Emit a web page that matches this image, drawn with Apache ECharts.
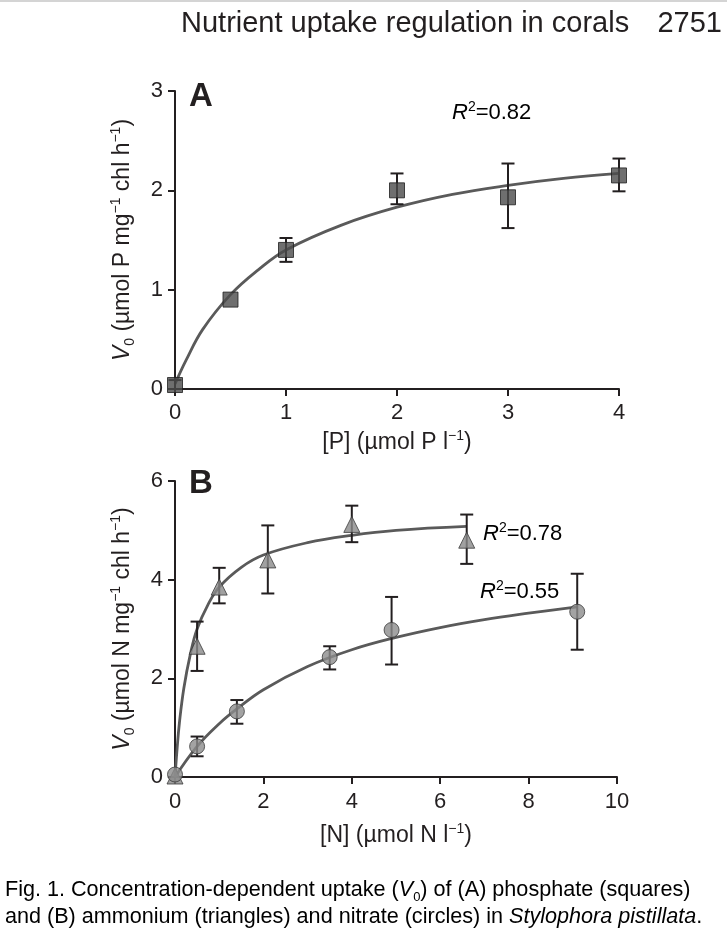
<!DOCTYPE html>
<html>
<head>
<meta charset="utf-8">
<script src="https://cdn.jsdelivr.net/npm/echarts@6/dist/echarts.min.js"></script>
<style>
html,body{margin:0;padding:0;background:#fff;}
#chart{width:727px;height:938px;}
</style>
</head>
<body>
<div id="chart"></div>
<script>
// ---- Panel A: phosphate ----
const pConc = [0, 0.5, 1, 2, 3, 4];
const pRate = [0.04, 0.9, 1.4, 2.0, 1.93, 2.15];
const pLow  = [0.0, 0.9, 1.28, 1.86, 1.62, 1.99];
const pHigh = [0.09, 0.9, 1.52, 2.17, 2.27, 2.32];
const pFitX = [0, 0.1, 0.25, 0.5, 0.75, 1, 1.5, 2, 2.5, 3, 3.5, 4];
const pFitY = [0.05, 0.29, 0.6, 0.95, 1.2, 1.4, 1.65, 1.83, 1.96, 2.05, 2.12, 2.17];

// ---- Panel B: ammonium (triangles) ----
const nhConc = [0, 0.5, 1, 2.1, 4, 6.6];
const nhRate = [0.02, 2.65, 3.85, 4.4, 5.12, 4.8];
const nhLow  = [0.02, 2.15, 3.52, 3.72, 4.76, 4.32];
const nhHigh = [0.02, 3.15, 4.24, 5.1, 5.5, 5.32];
const nhFitX = [0, 0.05, 0.1, 0.2, 0.35, 0.5, 0.75, 1, 1.5, 2, 3, 4, 5, 6.6];
const nhFitY = [0, 0.6, 1.1, 1.8, 2.5, 3.0, 3.5, 3.85, 4.25, 4.5, 4.75, 4.9, 5.0, 5.08];

// ---- Panel B: nitrate (circles) ----
const noConc = [0, 0.5, 1.4, 3.5, 4.9, 9.1];
const noRate = [0.05, 0.62, 1.33, 2.43, 2.98, 3.35];
const noLow  = [0.05, 0.42, 1.08, 2.18, 2.28, 2.58];
const noHigh = [0.05, 0.82, 1.56, 2.65, 3.65, 4.12];
const noFitX = [0, 0.5, 1, 1.4, 2, 3, 4, 5, 6, 7, 8, 9.1];
const noFitY = [0, 0.62, 1.08, 1.38, 1.77, 2.24, 2.58, 2.83, 3.03, 3.19, 3.32, 3.45];

// ---- Tick labels ----
const pXTicks = [0, 1, 2, 3, 4];
const pYTicks = [0, 1, 2, 3];
const nXTicks = [0, 2, 4, 6, 8, 10];
const nYTicks = [0, 2, 4, 6];

const FONT = '"Liberation Sans", Arial, Helvetica, sans-serif';
const INK = '#231f20';

function zip(a, b) { return a.map((v, i) => [v, b[i]]); }
function zip3(a, b, c) { return a.map((v, i) => [v, b[i], c[i]]); }

function errRender(params, api) {
  const x = api.value(0), lo = api.value(1), hi = api.value(2);
  if (lo === hi) return null;
  const a = api.coord([x, lo]);
  const b = api.coord([x, hi]);
  const w = 6.5;
  const st = { stroke: INK, lineWidth: 2 };
  return {
    type: 'group',
    children: [
      { type: 'line', shape: { x1: a[0], y1: a[1], x2: b[0], y2: b[1] }, style: st },
      { type: 'line', shape: { x1: a[0] - w, y1: a[1], x2: a[0] + w, y2: a[1] }, style: st },
      { type: 'line', shape: { x1: b[0] - w, y1: b[1], x2: b[0] + w, y2: b[1] }, style: st }
    ]
  };
}

function richSet(size) {
  const lh = Math.round(size * 1.2);
  const small = Math.round(size * 0.62);
  return {
    i: { fontStyle: 'italic', fontSize: size, fontFamily: FONT, color: INK, lineHeight: lh },
    sub: { fontSize: small, fontFamily: FONT, color: INK, verticalAlign: 'bottom', lineHeight: lh },
    sup: { fontSize: small, fontFamily: FONT, color: INK, verticalAlign: 'top', lineHeight: lh },
    n: { fontSize: size, fontFamily: FONT, color: INK, lineHeight: lh }
  };
}
const nameRich = richSet(23);
const rRich = richSet(22);

function xAxisCfg(gi, max, interval, name, gap, margin) {
  return {
    type: 'value', gridIndex: gi, min: 0, max: max, interval: interval,
    name: name, nameLocation: 'middle', nameGap: gap,
    nameTextStyle: { fontSize: 23, fontFamily: FONT, color: INK, rich: nameRich },
    axisLine: { lineStyle: { color: INK, width: 2 } },
    axisTick: { length: 7, lineStyle: { color: INK, width: 2 } },
    axisLabel: { fontSize: 22, fontFamily: FONT, color: INK, margin: margin },
    splitLine: { show: false }
  };
}
function yAxisCfg(gi, max, interval, name) {
  return {
    type: 'value', gridIndex: gi, min: 0, max: max, interval: interval,
    name: name, nameLocation: 'middle', nameGap: 38, nameRotate: 90,
    nameTextStyle: { fontSize: 23, fontFamily: FONT, color: INK, rich: nameRich },
    axisLine: { lineStyle: { color: INK, width: 2 } },
    axisTick: { length: 7, lineStyle: { color: INK, width: 2 } },
    axisLabel: { fontSize: 22, fontFamily: FONT, color: INK, margin: 12 },
    splitLine: { show: false }
  };
}

const chart = echarts.init(document.getElementById('chart'), null, { renderer: 'canvas' });
const CAPF = FONT;

const option = {
  backgroundColor: '#ffffff',
  animation: false,
  grid: [
    { left: 175, top: 91, width: 444, height: 298 },
    { left: 175, top: 481, width: 442, height: 296 }
  ],
  xAxis: [
    xAxisCfg(0, pXTicks[pXTicks.length - 1], 1, '{n|[P] (µmol P l}{sup|−1}{n|)}', 40, 13),
    xAxisCfg(1, nXTicks[nXTicks.length - 1], 2, '{n|[N] (µmol N l}{sup|−1}{n|)}', 45, 14)
  ],
  yAxis: [
    yAxisCfg(0, pYTicks[pYTicks.length - 1], 1, '{i|V}{sub|0}{n| (µmol P mg}{sup|−1}{n| chl h}{sup|−1}{n|)}'),
    yAxisCfg(1, nYTicks[nYTicks.length - 1], 2, '{i|V}{sub|0}{n| (µmol N mg}{sup|−1}{n| chl h}{sup|−1}{n|)}')
  ],
  series: [
    { type: 'line', xAxisIndex: 0, yAxisIndex: 0, data: zip(pFitX, pFitY), smooth: 0.4, showSymbol: false,
      lineStyle: { color: '#5a5a5a', width: 2.8 }, z: 2, silent: true },
    { type: 'custom', xAxisIndex: 0, yAxisIndex: 0, data: zip3(pConc, pLow, pHigh), renderItem: errRender, z: 3 },
    { type: 'scatter', xAxisIndex: 0, yAxisIndex: 0, data: zip(pConc, pRate), symbol: 'rect', symbolSize: 15,
      itemStyle: { color: '#4b4b4b', borderColor: '#1e1e1e', borderWidth: 1 }, z: 4, clip: false },

    { type: 'line', xAxisIndex: 1, yAxisIndex: 1, data: zip(nhFitX, nhFitY), smooth: 0.4, showSymbol: false,
      lineStyle: { color: '#5a5a5a', width: 2.8 }, z: 2, silent: true },
    { type: 'line', xAxisIndex: 1, yAxisIndex: 1, data: zip(noFitX, noFitY), smooth: 0.4, showSymbol: false,
      lineStyle: { color: '#5a5a5a', width: 2.8 }, z: 2, silent: true },
    { type: 'custom', xAxisIndex: 1, yAxisIndex: 1, data: zip3(nhConc, nhLow, nhHigh), renderItem: errRender, z: 3 },
    { type: 'custom', xAxisIndex: 1, yAxisIndex: 1, data: zip3(noConc, noLow, noHigh), renderItem: errRender, z: 3 },
    { type: 'scatter', xAxisIndex: 1, yAxisIndex: 1, data: zip(nhConc, nhRate), symbol: 'triangle', symbolSize: 16,
      itemStyle: { color: '#8a8a8a', borderColor: '#3a3a3a', borderWidth: 1 }, z: 4, clip: false },
    { type: 'scatter', xAxisIndex: 1, yAxisIndex: 1, data: zip(noConc, noRate), symbol: 'circle', symbolSize: 15,
      itemStyle: { color: '#8c8c8c', borderColor: '#3a3a3a', borderWidth: 1 }, z: 4, clip: false }
  ],
  graphic: [
    { type: 'rect', shape: { x: 0, y: 0, width: 727, height: 2 }, style: { fill: '#d4d4d4' } },
    { type: 'text', left: 181, top: 9, style: { text: 'Nutrient uptake regulation in corals', font: '29px ' + FONT, fill: INK } },
    { type: 'text', right: 5, top: 9, style: { text: '2751', font: '29px ' + FONT, fill: INK } },
    { type: 'text', left: 189, top: 80, style: { text: 'A', font: 'bold 33px ' + FONT, fill: INK } },
    { type: 'text', left: 189, top: 467, style: { text: 'B', font: 'bold 33px ' + FONT, fill: INK } },
    { type: 'text', left: 452, top: 100, style: { rich: rRich, text: '{i|R}{sup|2}{n|=0.82}' } },
    { type: 'text', left: 483, top: 521, style: { rich: rRich, text: '{i|R}{sup|2}{n|=0.78}' } },
    { type: 'text', left: 480, top: 579, style: { rich: rRich, text: '{i|R}{sup|2}{n|=0.55}' } },
    { type: 'text', left: 5, top: 879, style: {
        rich: {
          c: { fontSize: 21.6, fontFamily: CAPF, color: INK, lineHeight: 27 },
          ci: { fontSize: 21.6, fontStyle: 'italic', fontFamily: CAPF, color: INK, lineHeight: 27 },
          cs: { fontSize: 13, fontFamily: CAPF, color: INK, lineHeight: 27, verticalAlign: 'bottom' }
        },
        text: '{c|Fig. 1. Concentration-dependent uptake (}{ci|V}{cs|0}{c|) of (A) phosphate (squares)}\n' +
              '{c|and (B) ammonium (triangles) and nitrate (circles) in }{ci|Stylophora pistillata}{c|.}'
      } }
  ]
};
chart.setOption(option);
</script>
</body>
</html>
